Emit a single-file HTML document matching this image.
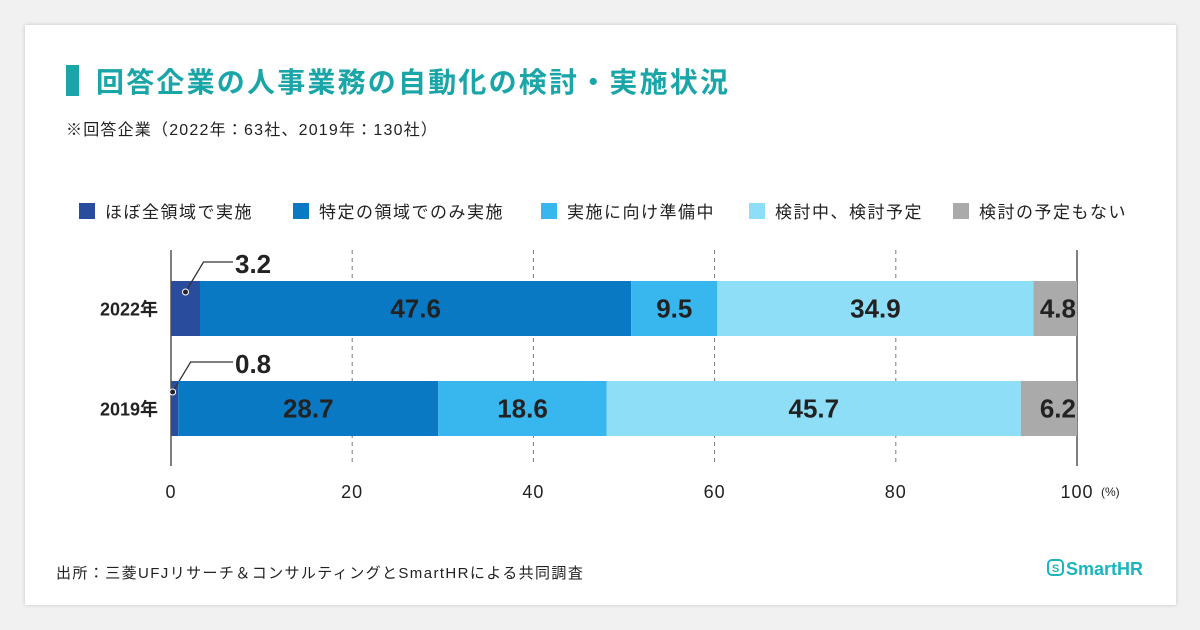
<!DOCTYPE html>
<html><head><meta charset="utf-8"><style>
body{margin:0;width:1200px;height:630px;background:#f1f1f1;font-family:"Liberation Sans","Noto Sans CJK JP",sans-serif;overflow:hidden}
#card{position:absolute;left:25px;top:25px;width:1151px;height:580px;background:#fff;box-shadow:0 0 4px rgba(0,0,0,0.18)}
svg{position:absolute;left:0;top:0}
</style></head><body>
<div id="card"></div>
<svg id="chart" width="1200" height="630">
<rect x="66" y="65" width="13" height="31" fill="#1aa6a8"/>
<text x="96" y="92" font-size="28" font-weight="bold" letter-spacing="2.2" fill="#1aa6a8">回答企業の人事業務の自動化の検討・実施状況</text>
<text x="66" y="135" font-size="16" letter-spacing="1.2" fill="#222">※回答企業（2022年：63社、2019年：130社）</text>
<text x="56" y="578" font-size="15" letter-spacing="1.4" fill="#222">出所：三菱UFJリサーチ＆コンサルティングとSmartHRによる共同調査</text>
<g>
<rect x="1048" y="560" width="15" height="15" rx="4" fill="none" stroke="#1bb5c0" stroke-width="2"/>
<text x="1055.5" y="572" font-size="11" font-weight="bold" fill="#1bb5c0" text-anchor="middle">S</text>
<text x="1066" y="575" font-size="18" font-weight="bold" fill="#1bb5c0">SmartHR</text>
</g>
<g id="legend"></g>
<g id="grid"></g>
<g id="bars"></g>
</svg>
<script>
const categories=["2022年","2019年"];
const seriesNames=["ほぼ全領域で実施","特定の領域でのみ実施","実施に向け準備中","検討中、検討予定","検討の予定もない"];
const s1=[3.2,0.8];
const s2=[47.6,28.7];
const s3=[9.5,18.6];
const s4=[34.9,45.7];
const s5=[4.8,6.2];
const ticks=[0,20,40,60,80,100];
const colors=["#2a4c9c","#0a79c3","#38b6ee","#8fdef8","#aaaaaa"];
const series=[s1,s2,s3,s4,s5];
const NS="http://www.w3.org/2000/svg";
const X0=171,X1=1077;
const xs=v=>X0+(X1-X0)*v/100;
const rowY=[281,381],BH=55;
function mk(tag,attrs,parent){const e=document.createElementNS(NS,tag);for(const k in attrs)e.setAttribute(k,attrs[k]);parent.appendChild(e);return e;}
const lg=document.getElementById('legend'),gg=document.getElementById('grid'),bg=document.getElementById('bars');
const legX=[79,293,541,749,953];
seriesNames.forEach((n,i)=>{
 const r=mk('rect',{x:legX[i],y:203,width:16,height:16,fill:colors[i]},lg);
 
 
 const t=mk('text',{x:legX[i]+26,y:218,'font-size':17,'letter-spacing':1.5,fill:'#222'},lg);t.textContent=n;
 
 
});
ticks.forEach(v=>{
 if(v>0&&v<100){const l=mk('line',{x1:xs(v),x2:xs(v),y1:250,y2:466,stroke:'#777','stroke-dasharray':'4,4','stroke-width':1},gg);
 
 }
 const t=mk('text',{x:xs(v),y:498,'font-size':18,'letter-spacing':1,fill:'#222','text-anchor':'middle'},gg);t.textContent=v;
 
 
});
const pt=mk('text',{x:1101,y:496,'font-size':12,fill:'#222'},gg);pt.textContent='(%)';


[X0,X1].forEach((x,i)=>{const l=mk('line',{x1:x,x2:x,y1:250,y2:466,stroke:'#555','stroke-width':1.5},gg);
 
 });
categories.forEach((c,ci)=>{
 const y=rowY[ci];
 const t=mk('text',{x:158,y:y+BH/2+7,'font-size':18,'font-weight':'bold',fill:'#222','text-anchor':'end'},bg);t.textContent=c;
 
 
 let acc=0;
 series.forEach((s,si)=>{
  const v=s[ci];const x=xs(acc),w=xs(acc+v)-xs(acc);
  const r=mk('rect',{x:x,y:y,width:w,height:BH,fill:colors[si]},bg);
  
  
  const lab=mk('text',{'font-size':26,'font-weight':'bold',fill:'#222'},bg);lab.textContent=v.toFixed(1);
  
  
  if(si===0){
   const dx=x+w/2+(ci===0?0:-2),dy=y+11;
   mk('polyline',{points:`${dx},${dy} ${dx+18},${y-19} ${x+62},${y-19}`,fill:'none',stroke:'#333','stroke-width':1.3},bg);
   mk('circle',{cx:dx,cy:dy,r:3,fill:'#222',stroke:'#fff','stroke-width':1},bg);
   lab.setAttribute('x',x+64);lab.setAttribute('y',y-8);
  }else if(si===4){
   lab.setAttribute('x',X1-1);lab.setAttribute('y',y+BH/2+9);lab.setAttribute('text-anchor','end');
  }else{
   lab.setAttribute('x',x+w/2);lab.setAttribute('y',y+BH/2+9);lab.setAttribute('text-anchor','middle');
  }
  acc+=v;
 });
});
</script>
</body></html>
